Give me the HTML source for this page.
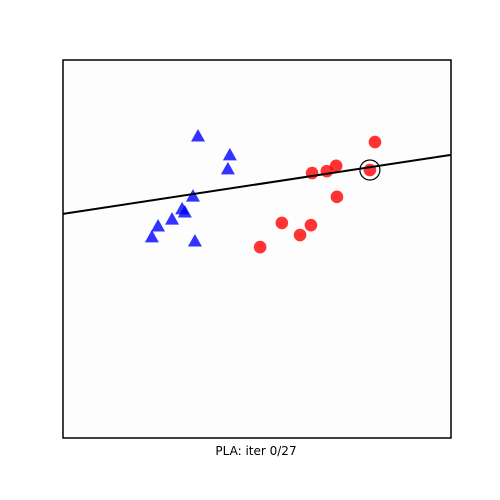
<!DOCTYPE html>
<html><head><meta charset="utf-8"><style>
body{margin:0;background:#fff;}
svg{display:block;font-family:"DejaVu Sans","Liberation Sans",sans-serif;}
</style></head><body>
<svg id="chart" width="500" height="500">
<rect x="63" y="60" width="388" height="378" fill="#fdfdfd" stroke="#000" stroke-width="1.5"/>
<g id="marks"></g>
<text x="256" y="455" text-anchor="middle" font-size="12">PLA: iter 0/27</text>
</svg>
<script>
const triX=[0.348,0.430,0.425,0.335,0.307,0.314,0.281,0.245,0.229,0.340];
const triY=[0.799,0.749,0.712,0.640,0.606,0.598,0.579,0.561,0.532,0.521];
const circX=[0.804,0.704,0.680,0.642,0.791,0.706,0.564,0.639,0.611,0.508];
const circY=[0.783,0.720,0.706,0.701,0.709,0.638,0.569,0.563,0.537,0.505];
const lineY0=0.593, lineY1=0.749;
const highlightX=0.791, highlightY=0.709;
const sx=v=>63+v*388, sy=v=>438-v*378;
const NS='http://www.w3.org/2000/svg';
const g=document.getElementById('marks');
function mk(t,a){const e=document.createElementNS(NS,t);for(const k in a)e.setAttribute(k,a[k]);g.appendChild(e);return e;}
triX.forEach((x,i)=>{const cx=sx(x),cy=sy(triY[i]);
const e=mk('polygon',{points:`${cx},${cy-7} ${cx-7},${cy+5.5} ${cx+7},${cy+5.5}`,fill:'#0000ff','fill-opacity':0.8});

});
circX.forEach((x,i)=>{const e=mk('circle',{cx:sx(x),cy:sy(circY[i]),r:6.3,fill:'#ff0000','fill-opacity':0.8});

});
const ln=mk('line',{x1:sx(0),y1:sy(lineY0),x2:sx(1),y2:sy(lineY1),stroke:'#000','stroke-width':2});


const hc=mk('circle',{cx:sx(highlightX),cy:sy(highlightY),r:10,fill:'none',stroke:'#000','stroke-width':1.2});


</script>
</body></html>
